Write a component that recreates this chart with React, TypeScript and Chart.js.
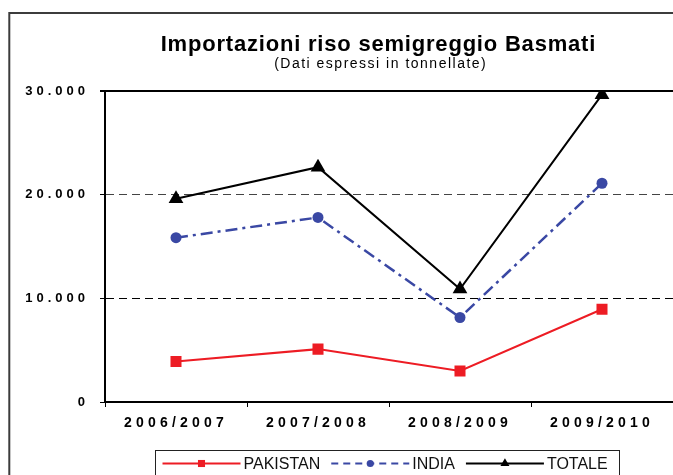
import React, { useEffect, useRef } from 'react';
import { Chart, registerables, CategoryScale, LinearScale } from 'chart.js';
import { drawPoint } from 'chart.js/helpers';

const categories = ['2006/2007', '2007/2008', '2008/2009', '2009/2010'];
const pakistan = [3900, 5100, 3000, 8950];
const india = [15850, 17800, 8150, 21100];
const totale = [19600, 22650, 10900, 29650];
const yTicks = [0, 10000, 20000, 30000];
const seriesNames = ['PAKISTAN', 'INDIA', 'TOTALE'];
const titleText = 'Importazioni riso semigreggio Basmati';
const subtitleText = '(Dati espressi in tonnellate)';

const FONT = '"Liberation Sans", Arial, Helvetica, sans-serif';
const RED = '#ED1C24';
const BLUE = '#3A48A4';
const BLACK = '#000000';

function fmt(v: number): string {
  return String(v).replace(/\B(?=(\d{3})+(?!\d))/g, '.');
}

class SpacedCategoryScale extends CategoryScale {
  static id = 'spacedCategory';
  drawLabels(area: any) {
    const ctx = this.ctx as any;
    ctx.save();
    ctx.letterSpacing = '4.2px';
    super.drawLabels(area);
    ctx.restore();
  }
}

class SpacedLinearScale extends LinearScale {
  static id = 'spacedLinear';
  drawLabels(area: any) {
    const ctx = this.ctx as any;
    ctx.save();
    ctx.letterSpacing = '4px';
    super.drawLabels(area);
    ctx.restore();
  }
}

Chart.register(...registerables, SpacedCategoryScale, SpacedLinearScale);

const frameAndTextPlugin = {
  id: 'frameAndText',
  beforeDraw(chart: any) {
    const ctx = chart.ctx;
    ctx.save();
    ctx.strokeStyle = '#3c3c3c';
    ctx.lineWidth = 2;
    ctx.strokeRect(9.3, 13, 760, 520);
    ctx.restore();
  },
  afterDraw(chart: any) {
    const ctx = chart.ctx as any;
    // title
    ctx.save();
    ctx.fillStyle = '#000';
    ctx.textAlign = 'center';
    ctx.textBaseline = 'alphabetic';
    ctx.font = `bold 22px ${FONT}`;
    ctx.letterSpacing = '0.8px';
    ctx.fillText(titleText, 378.4, 51);
    ctx.font = `14px ${FONT}`;
    ctx.letterSpacing = '1.5px';
    ctx.fillText(subtitleText, 380.7, 68);
    ctx.restore();

    // legend
    ctx.save();
    ctx.strokeStyle = '#222';
    ctx.lineWidth = 1;
    ctx.strokeRect(155.5, 450.5, 464, 60);
    ctx.font = `16px ${FONT}`;
    ctx.textAlign = 'left';
    ctx.textBaseline = 'alphabetic';
    const legendRadius = [5, 3.6, 5.2];
    const legendDash = [[], [7, 5], []];
    let x = 162.5;
    const y = 463.5;
    chart.data.datasets.forEach((ds: any, i: number) => {
      ctx.save();
      ctx.strokeStyle = ds.borderColor;
      ctx.lineWidth = 2;
      ctx.setLineDash(legendDash[i]);
      ctx.beginPath();
      ctx.moveTo(x, y);
      ctx.lineTo(x + 78, y);
      ctx.stroke();
      ctx.setLineDash([]);
      ctx.fillStyle = ds.pointBackgroundColor;
      ctx.strokeStyle = ds.pointBackgroundColor;
      drawPoint(ctx, { pointStyle: ds.pointStyle, radius: legendRadius[i], borderWidth: 0, rotation: 0 } as any, x + 39, y);
      ctx.restore();
      ctx.fillStyle = '#111';
      ctx.fillText(ds.label, x + 81, 469);
      const w = ctx.measureText(ds.label).width;
      x = x + 81 + w + 11;
    });
    ctx.restore();
  },
};

export default function App() {
  const ref = useRef<HTMLCanvasElement | null>(null);

  useEffect(() => {
    if (!ref.current) return;
    Chart.defaults.font.family = FONT;
    const chart = new Chart(ref.current, {
      type: 'line',
      data: {
        labels: categories,
        datasets: [
          {
            label: seriesNames[0],
            data: pakistan,
            borderColor: RED,
            backgroundColor: RED,
            pointBackgroundColor: RED,
            pointBorderColor: RED,
            borderWidth: 2,
            pointStyle: 'rect',
            pointRadius: 7.8,
            pointBorderWidth: 0,
            tension: 0,
          },
          {
            label: seriesNames[1],
            data: india,
            borderColor: BLUE,
            backgroundColor: BLUE,
            pointBackgroundColor: BLUE,
            pointBorderColor: BLUE,
            borderWidth: 2.5,
            borderDash: [12, 5, 3, 5],
            pointStyle: 'circle',
            pointRadius: 5.5,
            pointBorderWidth: 0,
            tension: 0,
          },
          {
            label: seriesNames[2],
            data: totale,
            borderColor: BLACK,
            backgroundColor: BLACK,
            pointBackgroundColor: BLACK,
            pointBorderColor: BLACK,
            borderWidth: 2,
            pointStyle: 'triangle',
            pointRadius: 8.5,
            pointBorderWidth: 0,
            tension: 0,
          },
        ],
      },
      options: {
        responsive: false,
        animation: false,
        layout: { autoPadding: false, padding: { top: 91, left: 0, right: 0, bottom: 0 } },
        plugins: {
          legend: { display: false },
          tooltip: { enabled: false },
          title: { display: false },
        },
        scales: {
          x: {
            type: 'spacedCategory',
            offset: true,
            grid: {
              display: true,
              drawOnChartArea: false,
              drawTicks: true,
              tickLength: 5,
              color: '#000',
              lineWidth: 1,
              offset: true,
            },
            border: { display: true, color: '#000', width: 2 },
            ticks: {
              color: '#000',
              font: { family: FONT, size: 14, weight: 'bold' },
              padding: 8,
              maxRotation: 0,
              autoSkip: false,
            },
            afterFit: (s: any) => {
              s.height = 73;
              s.paddingLeft = 0;
              s.paddingRight = 0;
            },
          } as any,
          y: {
            type: 'spacedLinear',
            min: 0,
            max: 30000,
            afterBuildTicks: (s: any) => {
              s.ticks = yTicks.map((v) => ({ value: v }));
            },
            grid: {
              color: (c: any) => (c.tick && c.tick.value === 20000 ? '#444' : '#000'),
              lineWidth: (c: any) => (c.tick && c.tick.value === 30000 ? 2 : 1),
              tickColor: '#000',
              tickLength: 5,
              drawTicks: true,
            },
            border: {
              display: true,
              color: '#000',
              width: 2,
              dash: (c: any) =>
                c.tick && c.tick.value !== 30000 && c.tick.value !== 0 ? [8, 5] : [],
            },
            ticks: {
              color: '#000',
              font: { family: FONT, size: 13, weight: 'bold' },
              padding: 11,
              callback: (v: any) => fmt(Number(v)),
            },
            afterFit: (s: any) => {
              s.width = 105;
              s.paddingTop = 0;
              s.paddingBottom = 0;
            },
          } as any,
        },
      },
      plugins: [frameAndTextPlugin],
    } as any);
    return () => chart.destroy();
  }, []);

  return (
    <div style={{ position: 'absolute', left: 0, top: 0, width: 673, height: 475, overflow: 'hidden', background: '#fff' }}>
      <canvas ref={ref} width={673} height={475} />
    </div>
  );
}
